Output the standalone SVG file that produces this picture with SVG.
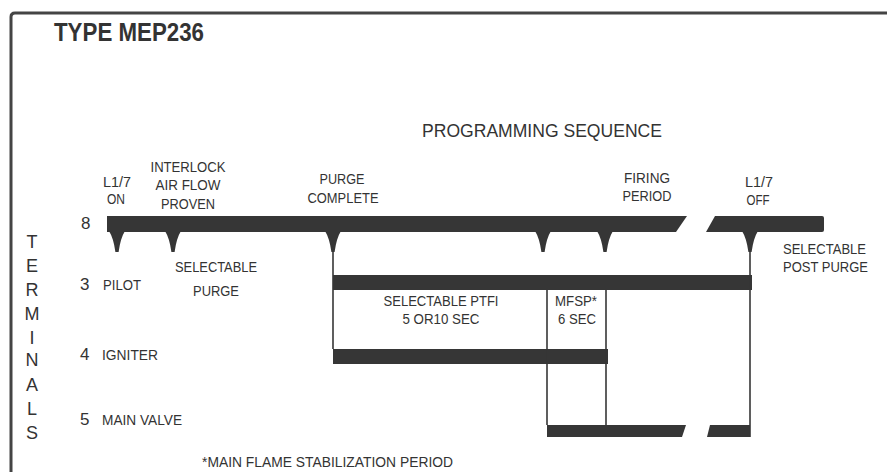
<svg xmlns="http://www.w3.org/2000/svg" width="887" height="472" viewBox="0 0 887 472">
<style>
text{font-family:"Liberation Sans",Arial,sans-serif;fill:#333}
.lb{font-size:14px}
.c{text-anchor:middle}
.num{font-size:17px}
.term{font-size:18px;text-anchor:middle}
.bar{fill:#363636}
.ln{stroke:#363636;stroke-width:1.6;fill:none}
</style>
<defs>
<path id="ptr" d="M-8,231 L8,231 Q3.5,238 1.6,252 L-1.6,252 Q-3.5,238 -8,231 Z" fill="#363636"/>
</defs>
<rect width="887" height="472" fill="#fff"/>
<path d="M11,472 L11,17 Q11,13 15,13 L887,13" fill="none" stroke="#444" stroke-width="3"/>
<text x="54" y="41" style="font-size:26px;font-weight:bold" textLength="150" lengthAdjust="spacingAndGlyphs">TYPE MEP236</text>
<text x="422" y="137" style="font-size:19px" textLength="240" lengthAdjust="spacingAndGlyphs">PROGRAMMING SEQUENCE</text>
<g id="terminals-label">
<text class="term" x="32" y="248">T</text>
<text class="term" x="32" y="272">E</text>
<text class="term" x="32" y="296">R</text>
<text class="term" x="32" y="320">M</text>
<text class="term" x="32" y="344">I</text>
<text class="term" x="32" y="366">N</text>
<text class="term" x="32" y="391">A</text>
<text class="term" x="32" y="415">L</text>
<text class="term" x="32" y="439">S</text>
</g>
<g id="terminal-8">
<text class="num" x="81" y="229">8</text>
<path class="bar" d="M107,216 L687,216 L676,232 L107,232 Z"/>
<path class="bar" d="M715,216 L822,216 Q824,216 824,218 L824,230 Q824,232 822,232 L706,232 Z"/>
</g>
<g id="terminal-3">
<text class="num" x="80" y="290">3</text>
<text class="lb" x="103" y="290" textLength="38" lengthAdjust="spacingAndGlyphs">PILOT</text>
<rect class="bar" x="333" y="275" width="419" height="15"/>
</g>
<g id="terminal-4">
<text class="num" x="80" y="360">4</text>
<text class="lb" x="102" y="360" textLength="56" lengthAdjust="spacingAndGlyphs">IGNITER</text>
<rect class="bar" x="333" y="349" width="275" height="15"/>
</g>
<g id="terminal-5">
<text class="num" x="80" y="425">5</text>
<text class="lb" x="102" y="425" textLength="80" lengthAdjust="spacingAndGlyphs">MAIN VALVE</text>
<path class="bar" d="M547,425 L686,425 L682,437 L547,437 Z"/>
<path class="bar" d="M710,425 L750,425 L750,437 L707,437 Z"/>
</g>
<g id="connectors">
<use href="#ptr" x="117"/>
<use href="#ptr" x="173"/>
<use href="#ptr" x="333"/>
<use href="#ptr" x="543"/>
<use href="#ptr" x="605"/>
<use href="#ptr" x="750"/>
<line class="ln" x1="333" y1="250" x2="333" y2="349"/>
<line class="ln" x1="547" y1="290" x2="547" y2="425"/>
<line class="ln" x1="606" y1="290" x2="606" y2="425"/>
<line class="ln" x1="750" y1="250" x2="750" y2="437"/>
</g>
<g id="event-labels">
<text class="lb c" x="117" y="187" textLength="28" lengthAdjust="spacingAndGlyphs">L1/7</text>
<text class="lb c" x="116" y="204" textLength="18" lengthAdjust="spacingAndGlyphs">ON</text>
<text class="lb c" x="188" y="172" textLength="75" lengthAdjust="spacingAndGlyphs">INTERLOCK</text>
<text class="lb c" x="188" y="190" textLength="65" lengthAdjust="spacingAndGlyphs">AIR FLOW</text>
<text class="lb c" x="188" y="209" textLength="54" lengthAdjust="spacingAndGlyphs">PROVEN</text>
<text class="lb c" x="342" y="184" textLength="45" lengthAdjust="spacingAndGlyphs">PURGE</text>
<text class="lb c" x="343" y="203" textLength="71" lengthAdjust="spacingAndGlyphs">COMPLETE</text>
<text class="lb c" x="647" y="183" textLength="46" lengthAdjust="spacingAndGlyphs">FIRING</text>
<text class="lb c" x="647" y="201" textLength="49" lengthAdjust="spacingAndGlyphs">PERIOD</text>
<text class="lb c" x="759" y="187" textLength="28" lengthAdjust="spacingAndGlyphs">L1/7</text>
<text class="lb c" x="758" y="205" textLength="23" lengthAdjust="spacingAndGlyphs">OFF</text>
<text class="lb" x="783" y="254" textLength="83" lengthAdjust="spacingAndGlyphs">SELECTABLE</text>
<text class="lb" x="783" y="272" textLength="85" lengthAdjust="spacingAndGlyphs">POST PURGE</text>
<text class="lb c" x="216" y="272" textLength="82" lengthAdjust="spacingAndGlyphs">SELECTABLE</text>
<text class="lb c" x="216" y="296" textLength="46" lengthAdjust="spacingAndGlyphs">PURGE</text>
<text class="lb c" x="441" y="306" textLength="115" lengthAdjust="spacingAndGlyphs">SELECTABLE PTFI</text>
<text class="lb c" x="441" y="324" textLength="77" lengthAdjust="spacingAndGlyphs">5 OR10 SEC</text>
<text class="lb c" x="576" y="306" textLength="42" lengthAdjust="spacingAndGlyphs">MFSP*</text>
<text class="lb c" x="577" y="324" textLength="38" lengthAdjust="spacingAndGlyphs">6 SEC</text>
<text class="lb" x="202" y="467" textLength="251" lengthAdjust="spacingAndGlyphs">*MAIN FLAME STABILIZATION PERIOD</text>
</g>
</svg>
